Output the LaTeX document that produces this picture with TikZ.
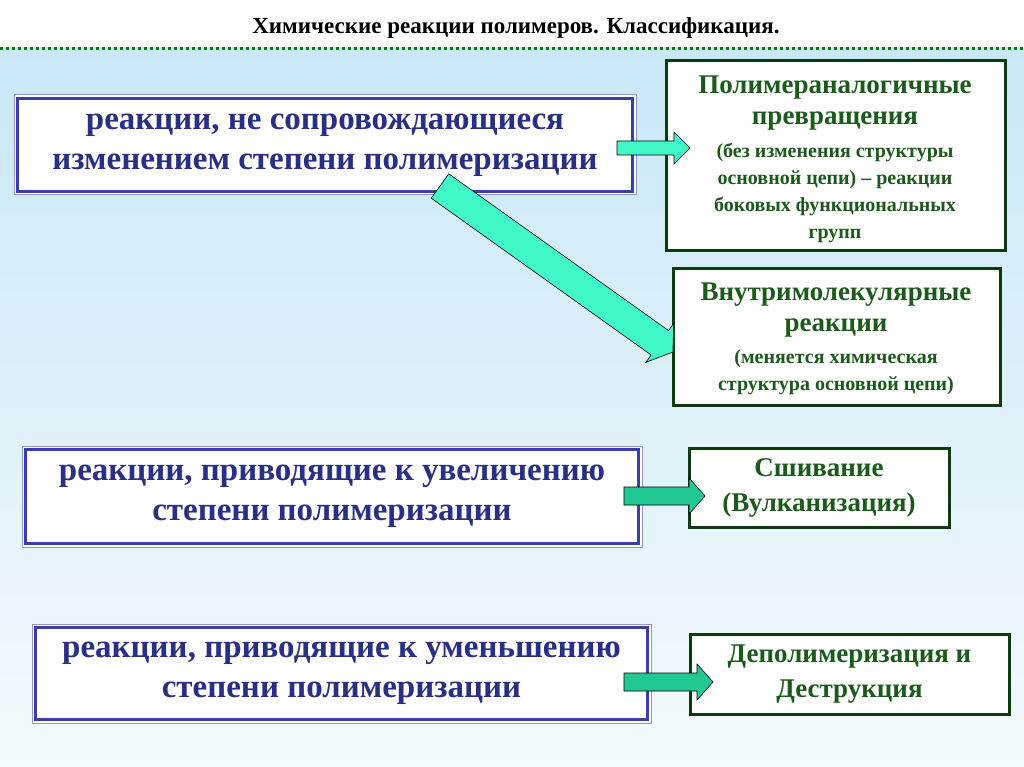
\documentclass[tikz,border=0pt]{standalone}
\usepackage{fontspec}
\setmainfont{Liberation Serif}
\usetikzlibrary{calc}
\definecolor{bgtop}{HTML}{C6E6F6}
\definecolor{bgbot}{HTML}{F4FAFD}
\definecolor{tblue}{HTML}{2A2F86}
\definecolor{bblue}{HTML}{3A3FA8}
\definecolor{tgreen}{HTML}{1C5A1C}
\definecolor{bgreen}{HTML}{0E3A10}
\definecolor{aqua}{HTML}{40F8C8}
\definecolor{sea}{HTML}{22C894}
\newcommand\fatarr[6]{% x,y,length,angle,color,halfwidth
 \begin{scope}[shift={(#1,#2)},rotate=#4]
 \filldraw[fill=#5,draw=black,line width=0.6pt]
  (0,-#6)--(#3-16,-#6)--(#3-16,-#6-9)--(#3,0)--(#3-16,#6+9)--(#3-16,#6)--(0,#6)--cycle;
 \end{scope}}
\tikzset{
 lbox/.style={draw=bblue!55,line width=1pt,fill=white,minimum height=100pt,align=center,
   font=\fontsize{33}{40}\selectfont\bfseries,text=tblue,inner sep=0pt},
 rbox/.style={draw=bgreen,line width=3pt,fill=white,align=center,text=tgreen,inner sep=0pt},
 big/.style={font=\fontsize{27}{35}\selectfont\bfseries},
 gtitle/.style={text=tgreen,align=center,font=\fontsize{27}{31}\selectfont\bfseries,inner sep=0pt},
 gsub/.style={text=tgreen,align=center,font=\fontsize{20}{27}\selectfont\bfseries,inner sep=0pt},
}
\begin{document}
\begin{tikzpicture}[x=1pt,y=-1pt]
\useasboundingbox (0,0) rectangle (1024,767);
\shade[top color=bgtop,bottom color=bgbot] (0,0) rectangle (1024,767);
\fill[white] (0,0) rectangle (1024,47);
\node[font=\fontsize{23}{26}\selectfont\bfseries] (title) at (516,28) {Химические реакции полимеров. Классификация.};
\draw[green!50!black,line width=3pt,dash pattern=on 3pt off 3pt] (0,49) -- (1024,49);
% left boxes
\node[lbox,minimum width=622pt] (l1) at (325,145) {реакции, не сопровождающиеся\\изменением степени полимеризации};
\draw[bblue,line width=3.5pt] ($(l1.north west)+(4,4)$) rectangle ($(l1.south east)+(-4,-4)$);
\node[lbox,minimum width=620pt,minimum height=101pt] (l2) at (332,496.5) {реакции, приводящие к увеличению\\степени полимеризации};
\draw[bblue,line width=3.5pt] ($(l2.north west)+(4,4)$) rectangle ($(l2.south east)+(-4,-4)$);
\node[lbox,minimum width=619pt,minimum height=99pt] (l3) at (341.5,673.5) {реакции, приводящие к уменьшению\\степени полимеризации};
\draw[bblue,line width=3.5pt] ($(l3.north west)+(4,4)$) rectangle ($(l3.south east)+(-4,-4)$);
% right boxes
\node[rbox,minimum width=339pt,minimum height=189pt] (r1) at (835.5,155.5) {};
\node[gtitle] (t1) at (835,103) {Полимераналогичные\\превращения};
\node[gsub] (s1) at (835,193) {(без изменения структуры\\основной цепи) – реакции\\боковых функциональных\\групп};
\node[rbox,minimum width=327pt,minimum height=137pt] (r2) at (836.5,336.5) {};
\node[gtitle] (t2) at (836,310) {Внутримолекулярные\\реакции};
\node[gsub] (s2) at (836,372) {(меняется химическая\\структура основной цепи)};
\node[rbox,big,minimum width=260pt,minimum height=79pt] (r3) at (819,487.5) {Сшивание\\(Вулканизация)};
\node[rbox,big,minimum width=319pt,minimum height=80pt] (r4) at (849.5,674) {Деполимеризация и\\Деструкция};
% arrows
\fatarr{617}{148}{73}{0}{aqua}{7}
\fatarr{440}{186}{286}{-35.5}{aqua}{15}
\fatarr{624}{496}{81}{0}{sea}{9}
\fatarr{624}{682}{89}{0}{sea}{9}
\end{tikzpicture}
\end{document}
